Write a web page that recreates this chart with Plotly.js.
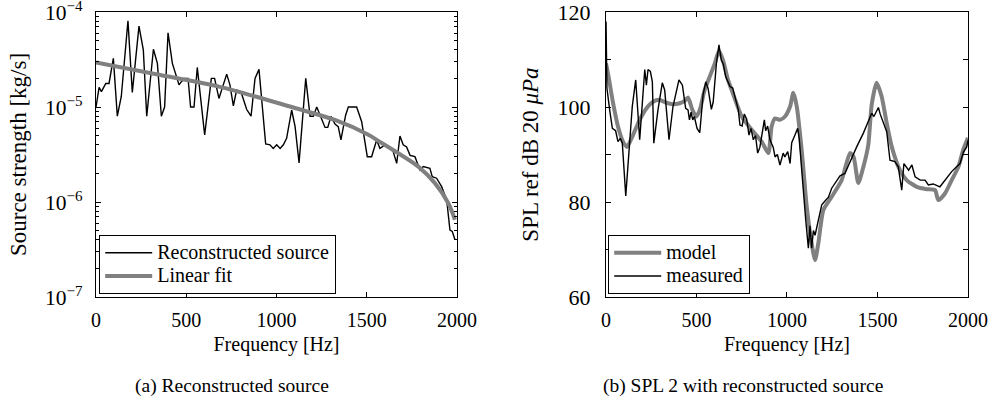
<!DOCTYPE html>
<html>
<head>
<meta charset="utf-8">
<script src="https://cdn.plot.ly/plotly-3.0.1.min.js"></script>
<style>html,body{margin:0;padding:0;background:#fff;}#chart{width:993px;height:410px;}</style>
</head>
<body>
<div id="chart"></div>
<script>
// ---- Panel (a): reconstructed source strength [kg/s] ----
const srcFreq = [0,17,30,54,72,96,118,140,177,201,238,262,281,318,340,362,380,399,423,460,473,491,510,524,543,561,602,639,657,681,724,742,761,779,803,835,859,881,903,940,964,982,1001,1020,1038,1056,1084,1103,1125,1162,1186,1204,1223,1269,1284,1302,1324,1342,1357,1383,1398,1444,1472,1503,1527,1555,1573,1601,1629,1647,1666,1684,1702,1721,1740,1767,1795,1813,1850,1863,1887,1915,1943,1961,1974,1989];
const srcVal = [1.0e-5,1.61e-5,1.45e-5,1.77e-5,1.77e-5,3.25e-5,8.0e-6,1.29e-5,8.1e-5,1.42e-5,7.1e-5,4.0e-5,8.0e-6,4.05e-5,2.88e-5,8.0e-6,1.0e-5,6.05e-5,2.88e-5,1.71e-5,1.85e-5,2.0e-5,2.0e-5,1.0e-5,1.0e-5,2.61e-5,5.07e-6,2.0e-5,2.0e-5,1.23e-5,2.22e-5,1.71e-5,1.03e-5,1.51e-5,1.45e-5,9.4e-6,8.0e-6,2.0e-5,2.49e-5,4.08e-6,4.0e-6,3.67e-6,4.0e-6,3.67e-6,4.0e-6,4.68e-6,9.3e-6,6.2e-6,2.58e-6,2.0e-5,8.0e-6,8.0e-6,1.0e-5,6.1e-6,6.1e-6,8.0e-6,6.6e-6,6.2e-6,4.5e-6,8.2e-6,1.0e-5,1.0e-5,7.0e-6,3.0e-6,3.0e-6,4.5e-6,3.67e-6,3.98e-6,3.67e-6,3.38e-6,2.55e-6,4.95e-6,4.0e-6,3.8e-6,3.1e-6,3.0e-6,2.17e-6,2.36e-6,2.26e-6,1.85e-6,1.78e-6,1.45e-6,1.05e-6,5.07e-7,4.9e-7,4.0e-7];
const fitFreq = [0,334,681,1084,1324,1509,1564,1675,1786,1878,1952,1989];
const fitVal  = [2.95e-5,2.21e-5,1.64e-5,1.0e-5,7.3e-6,5.1e-6,4.4e-6,3.26e-6,2.36e-6,1.58e-6,9.7e-7,6.5e-7];
const logTickVals = [1e-7,1e-6,1e-5,1e-4];
const logTickText = ["10<sup>−7</sup>","10<sup>−6</sup>","10<sup>−5</sup>","10<sup>−4</sup>"];
const logMinorTicks = [2e-7,3e-7,4e-7,5e-7,6e-7,7e-7,8e-7,9e-7,2e-6,3e-6,4e-6,5e-6,6e-6,7e-6,8e-6,9e-6,2e-5,3e-5,4e-5,5e-5,6e-5,7e-5,8e-5,9e-5];

// ---- Panel (b): SPL [dB re 20 uPa] ----
const measFreq = [0,5,20,35,53,66,79,90,109,122,145,164,186,214,223,232,245,256,264,287,311,324,348,370,403,422,440,453,461,470,479,488,503,518,536,551,564,582,592,610,624,637,648,661,674,685,700,713,731,740,752,764,777,790,801,814,826,838,850,860,875,882,893,906,924,934,947,961,979,988,1004,1017,1026,1044,1059,1067,1090,1104,1118,1127,1136,1146,1155,1173,1192,1210,1229,1247,1275,1293,1320,1348,1366,1385,1422,1449,1468,1480,1505,1515,1551,1569,1596,1615,1634,1646,1672,1690,1708,1736,1763,1781,1808,1845,1873,1910,1937,1956,1975,1993,2000];
const measVal  = [118,104,99.4,95.5,95.0,92.7,93.4,92.4,81.3,88.8,100.1,105.7,93.1,107.9,104.6,107.9,107.5,105.3,92.4,99.4,105.1,103.6,93.1,100.1,105.7,104.6,99.7,99.4,97.3,98.9,97.3,98,95.5,94.6,102.5,105.3,103.9,99.5,101,109.2,113.1,109.9,109,106.4,105.3,104.3,104,101.8,99.4,96.2,96,98.5,97.5,94.1,95.5,93.1,94.0,90.3,91.5,93.8,97.3,95,96,93.1,91.5,89.5,90,87.8,90.3,89.5,90.6,88.1,92.5,94.1,95.5,93.5,82,76,70.3,75,70.3,74,73,76.5,79.4,80.2,81,82.9,84.5,85.5,86.0,88.5,90.2,91.6,94.5,96.8,98.7,98.0,99.9,98.5,94.8,88.8,88.5,87.4,82.5,88.1,86.7,87.8,85.3,84.6,84.6,83.6,83.8,83.2,84.5,86.4,87.4,88.1,90.5,91.6,93];
const modelFreq = [0,14,39,66,94,116,149,186,223,260,297,333,370,407,435,453,477,499,518,545,573,601,624,646,674,694,750,805,860,897,915,934,961,989,1017,1035,1054,1081,1109,1136,1155,1173,1201,1247,1302,1348,1368,1394,1422,1449,1468,1495,1523,1551,1579,1624,1661,1717,1772,1818,1836,1873,1910,1947,1974,2000];
const modelVal  = [109.2,106.4,100.8,95.9,92.7,91.6,94.1,97.3,99.7,101.1,101.5,100.9,100.6,100.8,101.3,102.0,99.4,98.0,99.4,103.6,106.4,109.2,111.8,109.9,105.7,103.6,98.0,95.2,92.7,90.3,95.9,97.6,97.3,98.0,100.1,103.0,100.1,91.0,79.0,71.3,67.8,71.3,78.3,81.1,84.6,90.3,89.5,84.0,87.4,92,100.5,105.1,102.2,96.6,91.6,86.7,84.6,83.2,82.7,82.5,80.4,81.8,84.6,87.4,91,93.5];
const freqTicks = [0,500,1000,1500,2000];

const GRAY = "rgb(128,128,128)";
const FAM = "Liberation Serif";
const mkFont = (s) => ({family: FAM, size: s, color: "black"});
// legend entries: text drawn slightly larger than the legend's row-pitch font
const big = (t) => "<span style='font-size:20px'>" + t + "</span>";

const traces = [
  {x: srcFreq, y: srcVal, type: "scatter", mode: "lines", name: big("Reconstructed source"),
   line: {color: "black", width: 1.4}, xaxis: "x", yaxis: "y", legend: "legend"},
  {x: fitFreq, y: fitVal, type: "scatter", mode: "lines", name: big("Linear fit"),
   line: {color: GRAY, width: 4, shape: "spline", smoothing: 0.8}, xaxis: "x", yaxis: "y", legend: "legend"},
  {x: modelFreq, y: modelVal, type: "scatter", mode: "lines", name: big("model"),
   line: {color: GRAY, width: 4, shape: "spline", smoothing: 0.6}, xaxis: "x2", yaxis: "y2", legend: "legend2"},
  {x: measFreq, y: measVal, type: "scatter", mode: "lines", name: big("measured"),
   line: {color: "black", width: 1.4}, xaxis: "x2", yaxis: "y2", legend: "legend2"}
];

function ax(extra) {
  return Object.assign({
    showline: true, linecolor: "black", linewidth: 1.2, mirror: "ticks",
    ticks: "inside", ticklen: 5, tickcolor: "black", tickwidth: 1,
    showgrid: false, zeroline: false, tickfont: mkFont(20), ticklabeloverflow: "allow"
  }, extra);
}

const legendBase = {
  xanchor: "left", yanchor: "bottom", y: 1 - 294 / 410,
  bordercolor: "black", borderwidth: 1.2, bgcolor: "white", font: mkFont(15.5),
  tracegroupgap: 0, itemwidth: 47
};

const layout = {
  width: 993, height: 410,
  margin: {l: 0, r: 0, t: 0, b: 0},
  paper_bgcolor: "white", plot_bgcolor: "white",
  font: mkFont(20),
  xaxis: ax({
    domain: [0.0967, 0.4602], range: [0, 2000], tickvals: freqTicks, anchor: "y",
    ticklabelstandoff: 5,
    title: {text: "Frequency [Hz]", font: mkFont(20), standoff: 6}
  }),
  yaxis: ax({
    domain: [0.2756, 0.9707], type: "log", range: [-7, -4], anchor: "x",
    tickvals: logTickVals, ticktext: logTickText, ticklabelstandoff: 8,
    tickfont: mkFont(21.5),
    minor: {ticks: "inside", ticklen: 3, tickcolor: "black", tickvals: logMinorTicks, showgrid: false},
    title: {text: "Source strength [kg/s]", font: mkFont(23), standoff: 12}
  }),
  xaxis2: ax({
    domain: [0.6103, 0.9748], range: [0, 2000], tickvals: freqTicks, anchor: "y2",
    ticklabelstandoff: 5,
    title: {text: "Frequency [Hz]", font: mkFont(20), standoff: 6}
  }),
  yaxis2: ax({
    domain: [0.2756, 0.9707], range: [60, 120], dtick: 20, tick0: 60, anchor: "x2",
    ticklabelstandoff: 10, tickfont: mkFont(22),
    minor: {ticks: "inside", ticklen: 5, dtick: 10, tickcolor: "black", showgrid: false},
    title: {text: "SPL ref dB 20 <i>μPa</i>", font: mkFont(23), standoff: 12}
  }),
  legend: Object.assign({}, legendBase, {x: 0.0997}),
  legend2: Object.assign({}, legendBase, {x: 0.6123}),
  showlegend: true,
  annotations: [
    {text: "(a) Reconstructed source", xref: "paper", yref: "paper", x: 0.2336, y: 1 - 386 / 410,
     xanchor: "center", yanchor: "middle", showarrow: false, font: mkFont(19.5)},
    {text: "(b) SPL 2 with reconstructed source", xref: "paper", yref: "paper", x: 0.748, y: 1 - 386 / 410,
     xanchor: "center", yanchor: "middle", showarrow: false, font: mkFont(19.5)}
  ]
};

Plotly.newPlot("chart", traces, layout, {staticPlot: true, displayModeBar: false});
</script>
</body>
</html>
